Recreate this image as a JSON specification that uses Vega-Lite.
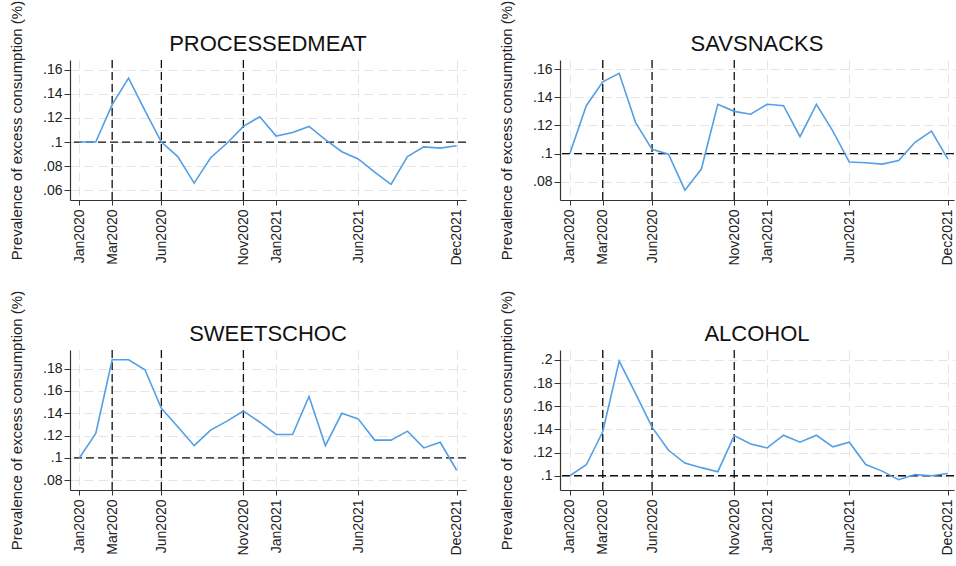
{
  "$schema": "https://vega.github.io/schema/vega-lite/v6.json",
  "padding": {"left": 9, "top": 0, "right": 0, "bottom": 0},
  "background": "white",
  "config": {
    "font": "Liberation Sans",
    "view": {"stroke": null},
    "axis": {
      "domainColor": "#333333",
      "tickColor": "#333333",
      "labelColor": "#222222",
      "titleColor": "#222222",
      "labelFont": "Liberation Sans",
      "titleFont": "Liberation Sans",
      "labelFontSize": 14,
      "titleFontSize": 15,
      "titleFontWeight": "normal",
      "gridColor": "#e4e4e4",
      "gridDash": [9, 5],
      "tickSize": 6,
      "domainWidth": 1.2,
      "labelOverlap": false,
      "labelFlush": false,
      "labelBound": false,
      "tickCount": 30
    },
    "title": {"font": "Liberation Sans", "fontSize": 22, "fontWeight": "normal", "color": "#111111", "offset": 8, "anchor": "middle", "frame": "group", "dy": 64}
  },
  "datasets": {
    "series": [
      {"cat": "PROCESSEDMEAT", "t": 0, "value": 0.1},
      {"cat": "PROCESSEDMEAT", "t": 1, "value": 0.1},
      {"cat": "PROCESSEDMEAT", "t": 2, "value": 0.131},
      {"cat": "PROCESSEDMEAT", "t": 3, "value": 0.153},
      {"cat": "PROCESSEDMEAT", "t": 4, "value": 0.126},
      {"cat": "PROCESSEDMEAT", "t": 5, "value": 0.1},
      {"cat": "PROCESSEDMEAT", "t": 6, "value": 0.088},
      {"cat": "PROCESSEDMEAT", "t": 7, "value": 0.066},
      {"cat": "PROCESSEDMEAT", "t": 8, "value": 0.087},
      {"cat": "PROCESSEDMEAT", "t": 9, "value": 0.099},
      {"cat": "PROCESSEDMEAT", "t": 10, "value": 0.113},
      {"cat": "PROCESSEDMEAT", "t": 11, "value": 0.121},
      {"cat": "PROCESSEDMEAT", "t": 12, "value": 0.105},
      {"cat": "PROCESSEDMEAT", "t": 13, "value": 0.108},
      {"cat": "PROCESSEDMEAT", "t": 14, "value": 0.113},
      {"cat": "PROCESSEDMEAT", "t": 15, "value": 0.102},
      {"cat": "PROCESSEDMEAT", "t": 16, "value": 0.092},
      {"cat": "PROCESSEDMEAT", "t": 17, "value": 0.086},
      {"cat": "PROCESSEDMEAT", "t": 18, "value": 0.075},
      {"cat": "PROCESSEDMEAT", "t": 19, "value": 0.065},
      {"cat": "PROCESSEDMEAT", "t": 20, "value": 0.088},
      {"cat": "PROCESSEDMEAT", "t": 21, "value": 0.096},
      {"cat": "PROCESSEDMEAT", "t": 22, "value": 0.095},
      {"cat": "PROCESSEDMEAT", "t": 23, "value": 0.097},
      {"cat": "SAVSNACKS", "t": 0, "value": 0.1},
      {"cat": "SAVSNACKS", "t": 1, "value": 0.134},
      {"cat": "SAVSNACKS", "t": 2, "value": 0.151},
      {"cat": "SAVSNACKS", "t": 3, "value": 0.157},
      {"cat": "SAVSNACKS", "t": 4, "value": 0.122},
      {"cat": "SAVSNACKS", "t": 5, "value": 0.103},
      {"cat": "SAVSNACKS", "t": 6, "value": 0.0995},
      {"cat": "SAVSNACKS", "t": 7, "value": 0.074},
      {"cat": "SAVSNACKS", "t": 8, "value": 0.089},
      {"cat": "SAVSNACKS", "t": 9, "value": 0.135},
      {"cat": "SAVSNACKS", "t": 10, "value": 0.13},
      {"cat": "SAVSNACKS", "t": 11, "value": 0.128},
      {"cat": "SAVSNACKS", "t": 12, "value": 0.135},
      {"cat": "SAVSNACKS", "t": 13, "value": 0.134},
      {"cat": "SAVSNACKS", "t": 14, "value": 0.112},
      {"cat": "SAVSNACKS", "t": 15, "value": 0.135},
      {"cat": "SAVSNACKS", "t": 16, "value": 0.116},
      {"cat": "SAVSNACKS", "t": 17, "value": 0.094},
      {"cat": "SAVSNACKS", "t": 18, "value": 0.0935},
      {"cat": "SAVSNACKS", "t": 19, "value": 0.0925},
      {"cat": "SAVSNACKS", "t": 20, "value": 0.095},
      {"cat": "SAVSNACKS", "t": 21, "value": 0.108},
      {"cat": "SAVSNACKS", "t": 22, "value": 0.116},
      {"cat": "SAVSNACKS", "t": 23, "value": 0.096},
      {"cat": "SWEETSCHOC", "t": 0, "value": 0.1},
      {"cat": "SWEETSCHOC", "t": 1, "value": 0.122},
      {"cat": "SWEETSCHOC", "t": 2, "value": 0.188},
      {"cat": "SWEETSCHOC", "t": 3, "value": 0.188},
      {"cat": "SWEETSCHOC", "t": 4, "value": 0.179},
      {"cat": "SWEETSCHOC", "t": 5, "value": 0.1445},
      {"cat": "SWEETSCHOC", "t": 6, "value": 0.128},
      {"cat": "SWEETSCHOC", "t": 7, "value": 0.111},
      {"cat": "SWEETSCHOC", "t": 8, "value": 0.125},
      {"cat": "SWEETSCHOC", "t": 9, "value": 0.133},
      {"cat": "SWEETSCHOC", "t": 10, "value": 0.142},
      {"cat": "SWEETSCHOC", "t": 11, "value": 0.132},
      {"cat": "SWEETSCHOC", "t": 12, "value": 0.121},
      {"cat": "SWEETSCHOC", "t": 13, "value": 0.121},
      {"cat": "SWEETSCHOC", "t": 14, "value": 0.155},
      {"cat": "SWEETSCHOC", "t": 15, "value": 0.111},
      {"cat": "SWEETSCHOC", "t": 16, "value": 0.14},
      {"cat": "SWEETSCHOC", "t": 17, "value": 0.135},
      {"cat": "SWEETSCHOC", "t": 18, "value": 0.116},
      {"cat": "SWEETSCHOC", "t": 19, "value": 0.116},
      {"cat": "SWEETSCHOC", "t": 20, "value": 0.124},
      {"cat": "SWEETSCHOC", "t": 21, "value": 0.109},
      {"cat": "SWEETSCHOC", "t": 22, "value": 0.114},
      {"cat": "SWEETSCHOC", "t": 23, "value": 0.089},
      {"cat": "ALCOHOL", "t": 0, "value": 0.1},
      {"cat": "ALCOHOL", "t": 1, "value": 0.1095},
      {"cat": "ALCOHOL", "t": 2, "value": 0.138},
      {"cat": "ALCOHOL", "t": 3, "value": 0.199},
      {"cat": "ALCOHOL", "t": 4, "value": 0.171},
      {"cat": "ALCOHOL", "t": 5, "value": 0.142},
      {"cat": "ALCOHOL", "t": 6, "value": 0.122},
      {"cat": "ALCOHOL", "t": 7, "value": 0.111},
      {"cat": "ALCOHOL", "t": 8, "value": 0.107},
      {"cat": "ALCOHOL", "t": 9, "value": 0.1035},
      {"cat": "ALCOHOL", "t": 10, "value": 0.1347},
      {"cat": "ALCOHOL", "t": 11, "value": 0.1275},
      {"cat": "ALCOHOL", "t": 12, "value": 0.124},
      {"cat": "ALCOHOL", "t": 13, "value": 0.135},
      {"cat": "ALCOHOL", "t": 14, "value": 0.129},
      {"cat": "ALCOHOL", "t": 15, "value": 0.135},
      {"cat": "ALCOHOL", "t": 16, "value": 0.125},
      {"cat": "ALCOHOL", "t": 17, "value": 0.129},
      {"cat": "ALCOHOL", "t": 18, "value": 0.1097},
      {"cat": "ALCOHOL", "t": 19, "value": 0.104},
      {"cat": "ALCOHOL", "t": 20, "value": 0.0966},
      {"cat": "ALCOHOL", "t": 21, "value": 0.101},
      {"cat": "ALCOHOL", "t": 22, "value": 0.1},
      {"cat": "ALCOHOL", "t": 23, "value": 0.102}
    ],
    "events": [{"t": 2}, {"t": 5}, {"t": 10}],
    "ref": [{"y": 0.1}]
  },
  "columns": 2,
  "spacing": {"row": 150, "column": 94},
  "bounds": "flush",
  "concat": [
    {
      "title": "PROCESSEDMEAT",
      "width": 396,
      "height": 140,
      "layer": [
        {"data": {"name": "events"}, "mark": {"type": "rule", "color": "#111111", "strokeDash": [8, 4], "strokeWidth": 1.3},
          "encoding": {"x": {"field": "t", "type": "quantitative"}}},
        {"data": {"name": "ref"}, "mark": {"type": "rule", "color": "#111111", "strokeDash": [8, 4], "strokeWidth": 1.3},
          "encoding": {"y": {"field": "y", "type": "quantitative"}}},
        {
          "data": {"name": "series"},
          "transform": [{"filter": "datum.cat === 'PROCESSEDMEAT'"}],
          "mark": {"type": "line", "color": "#539fe6", "strokeWidth": 1.6},
          "encoding": {
            "x": {"field": "t", "type": "quantitative", "scale": {"domain": [-0.57, 23.57], "nice": false, "zero": false},
              "axis": {"title": null, "values": [0, 2, 5, 10, 12, 17, 23], "tickCount": 30, "labelExpr": "timeFormat(datetime(2020, datum.value, 1), '%b%Y')", "labelAngle": -90, "labelPadding": 4, "tickSize": 5, "grid": true, "labelOverlap": false}},
            "y": {"field": "value", "type": "quantitative", "scale": {"domain": [0.052, 0.168], "nice": false, "zero": false},
              "axis": {"title": "Prevalence of excess consumption (%)", "values": [0.06, 0.08, 0.1, 0.12, 0.14, 0.16], "tickCount": 30, "labelExpr": "substring(toString(datum.value), 1)", "labelPadding": 2, "titlePadding": 18, "grid": true, "labelOverlap": false}}
          }
        }
      ]
    },
    {
      "title": "SAVSNACKS",
      "width": 394,
      "height": 140,
      "layer": [
        {"data": {"name": "events"}, "mark": {"type": "rule", "color": "#111111", "strokeDash": [8, 4], "strokeWidth": 1.3},
          "encoding": {"x": {"field": "t", "type": "quantitative"}}},
        {"data": {"name": "ref"}, "mark": {"type": "rule", "color": "#111111", "strokeDash": [8, 4], "strokeWidth": 1.3},
          "encoding": {"y": {"field": "y", "type": "quantitative"}}},
        {
          "data": {"name": "series"},
          "transform": [{"filter": "datum.cat === 'SAVSNACKS'"}],
          "mark": {"type": "line", "color": "#539fe6", "strokeWidth": 1.6},
          "encoding": {
            "x": {"field": "t", "type": "quantitative", "scale": {"domain": [-0.6, 23.37], "nice": false, "zero": false},
              "axis": {"title": null, "values": [0, 2, 5, 10, 12, 17, 23], "tickCount": 30, "labelExpr": "timeFormat(datetime(2020, datum.value, 1), '%b%Y')", "labelAngle": -90, "labelPadding": 4, "tickSize": 5, "grid": true, "labelOverlap": false}},
            "y": {"field": "value", "type": "quantitative", "scale": {"domain": [0.067, 0.1665], "nice": false, "zero": false},
              "axis": {"title": "Prevalence of excess consumption (%)", "values": [0.08, 0.1, 0.12, 0.14, 0.16], "tickCount": 30, "labelExpr": "substring(toString(datum.value), 1)", "labelPadding": 2, "titlePadding": 18, "grid": true, "labelOverlap": false}}
          }
        }
      ]
    },
    {
      "title": "SWEETSCHOC",
      "width": 396,
      "height": 140,
      "layer": [
        {"data": {"name": "events"}, "mark": {"type": "rule", "color": "#111111", "strokeDash": [8, 4], "strokeWidth": 1.3},
          "encoding": {"x": {"field": "t", "type": "quantitative"}}},
        {"data": {"name": "ref"}, "mark": {"type": "rule", "color": "#111111", "strokeDash": [8, 4], "strokeWidth": 1.3},
          "encoding": {"y": {"field": "y", "type": "quantitative"}}},
        {
          "data": {"name": "series"},
          "transform": [{"filter": "datum.cat === 'SWEETSCHOC'"}],
          "mark": {"type": "line", "color": "#539fe6", "strokeWidth": 1.6},
          "encoding": {
            "x": {"field": "t", "type": "quantitative", "scale": {"domain": [-0.57, 23.57], "nice": false, "zero": false},
              "axis": {"title": null, "values": [0, 2, 5, 10, 12, 17, 23], "tickCount": 30, "labelExpr": "timeFormat(datetime(2020, datum.value, 1), '%b%Y')", "labelAngle": -90, "labelPadding": 4, "tickSize": 5, "grid": true, "labelOverlap": false}},
            "y": {"field": "value", "type": "quantitative", "scale": {"domain": [0.0713, 0.1967], "nice": false, "zero": false},
              "axis": {"title": "Prevalence of excess consumption (%)", "values": [0.08, 0.1, 0.12, 0.14, 0.16, 0.18], "tickCount": 30, "labelExpr": "substring(toString(datum.value), 1)", "labelPadding": 2, "titlePadding": 18, "grid": true, "labelOverlap": false}}
          }
        }
      ]
    },
    {
      "title": "ALCOHOL",
      "width": 394,
      "height": 140,
      "layer": [
        {"data": {"name": "events"}, "mark": {"type": "rule", "color": "#111111", "strokeDash": [8, 4], "strokeWidth": 1.3},
          "encoding": {"x": {"field": "t", "type": "quantitative"}}},
        {"data": {"name": "ref"}, "mark": {"type": "rule", "color": "#111111", "strokeDash": [8, 4], "strokeWidth": 1.3},
          "encoding": {"y": {"field": "y", "type": "quantitative"}}},
        {
          "data": {"name": "series"},
          "transform": [{"filter": "datum.cat === 'ALCOHOL'"}],
          "mark": {"type": "line", "color": "#539fe6", "strokeWidth": 1.6},
          "encoding": {
            "x": {"field": "t", "type": "quantitative", "scale": {"domain": [-0.6, 23.37], "nice": false, "zero": false},
              "axis": {"title": null, "values": [0, 2, 5, 10, 12, 17, 23], "tickCount": 30, "labelExpr": "timeFormat(datetime(2020, datum.value, 1), '%b%Y')", "labelAngle": -90, "labelPadding": 4, "tickSize": 5, "grid": true, "labelOverlap": false}},
            "y": {"field": "value", "type": "quantitative", "scale": {"domain": [0.0877, 0.2086], "nice": false, "zero": false},
              "axis": {"title": "Prevalence of excess consumption (%)", "values": [0.1, 0.12, 0.14, 0.16, 0.18, 0.2], "tickCount": 30, "labelExpr": "substring(toString(datum.value), 1)", "labelPadding": 2, "titlePadding": 18, "grid": true, "labelOverlap": false}}
          }
        }
      ]
    }
  ]
}
